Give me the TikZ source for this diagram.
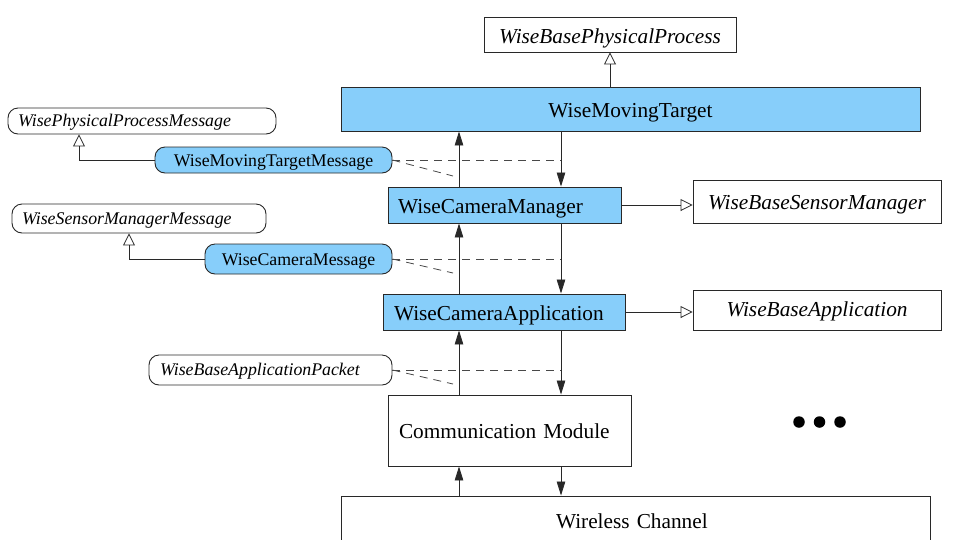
\documentclass[tikz,border=0pt]{standalone}
\usepackage{fontspec}
\setmainfont{Liberation Serif}
\usetikzlibrary{arrows.meta}
\definecolor{skyfill}{RGB}{135,206,250}
\definecolor{edgegray}{RGB}{40,40,40}
\newcommand\dgLarge{\fontsize{21.3}{25}\selectfont}
\newcommand\dgSmall{\fontsize{17.8}{21}\selectfont}
\begin{document}
\begin{tikzpicture}[x=1pt,y=-1pt,
  box/.style={draw=edgegray, line width=0.9pt, rectangle, inner sep=0pt, font=\dgLarge},
  ibox/.style={box, font=\dgLarge\itshape},
  msg/.style={draw=edgegray, line width=0.9pt, rounded corners=10pt, inner sep=0pt, font=\dgSmall},
  imsg/.style={msg, font=\dgSmall\itshape},
  simfill/.style={fill=skyfill},
  sz/.style 2 args={minimum width=#1pt, minimum height=#2pt},
  lft/.style 2 args={text width=#1pt, inner xsep=#2pt, align=left},
  % baseline lies half of #1 below the node centre
  bl/.style={text height=#1pt, text depth=0pt},
  flow/.style={draw=edgegray, line width=0.8pt, -{Triangle[length=14pt,width=8.5pt]}},
  inh/.style={draw=edgegray, line width=0.8pt, -{Triangle[open,length=12pt,width=12pt,line width=0.8pt]}},
  assoc/.style={draw=edgegray!85, line width=0.8pt, dash pattern=on 8pt off 6pt},
  dotmark/.style={circle, fill=black, inner sep=0pt, minimum size=11.5pt}
]
\useasboundingbox (0,0) rectangle (955,539);

% classes of the sensor node stack
\node[ibox, sz={252}{35}, bl=17] (wbpp) at (610,34.5) {WiseBasePhysicalProcess};
\node[box, simfill, sz={579}{44}, bl=16] (wmt) at (630.5,109) {WiseMovingTarget};
\node[imsg, sz={268}{26}, lft={248}{10}, bl=10] (wppm) at (142,121) {WisePhysicalProcessMessage};
\node[msg, simfill, sz={237}{26}, bl=13] (wmtm) at (273.5,160) {WiseMovingTargetMessage};
\node[box, simfill, sz={233}{36}, lft={213}{10}, bl=17] (wcm) at (504.5,205) {WiseCameraManager};
\node[ibox, sz={248}{43}, bl=16] (wbsm) at (817,201.5) {WiseBaseSensorManager};
\node[imsg, sz={254}{29}, lft={234}{10}, bl=11] (wsmm) at (139,218.5) {WiseSensorManagerMessage};
\node[msg, simfill, sz={187}{30}, bl=12] (wcmsg) at (298.5,259) {WiseCameraMessage};
\node[box, simfill, sz={242}{36}, lft={220}{11}, bl=16] (wca) at (504,312) {WiseCameraApplication};
\node[ibox, sz={248}{40}, bl=12] (wba) at (817,310) {WiseBaseApplication};
\node[imsg, sz={243}{30}, lft={221}{11}, bl=10] (wbap) at (270.5,370) {WiseBaseApplicationPacket};
\node[box, sz={243}{71}, lft={221}{11}, bl=16] (cm) at (509.5,430.5) {Communication Module};
\node[box, sz={589}{50}, lft={569}{10}, bl=14] (wc) at (635.5,521) {\hspace*{205pt}Wireless Channel};

% further modules
\node[dotmark] (dot1) at (799,422) {};
\node[dotmark] (dot2) at (819.5,422) {};
\node[dotmark] (dot3) at (840,422) {};

% columns of the up and down message flows
\coordinate (ux) at (459,0);
\coordinate (dx) at (561,0);

\draw[flow] (wcm.north -| ux) -- (wmt.south -| ux);
\draw[flow] (wmt.south -| dx) -- (wcm.north -| dx);
\draw[flow] (wca.north -| ux) -- (wcm.south -| ux);
\draw[flow] (wcm.south -| dx) -- (wca.north -| dx);
\draw[flow] (cm.north -| ux) -- (wca.south -| ux);
\draw[flow] (wca.south -| dx) -- (cm.north -| dx);
\draw[flow] (wc.north -| ux) -- (cm.south -| ux);
\draw[flow] (cm.south -| dx) -- (wc.north -| dx);

% message types attached to the flows
\coordinate (d1) at (453,176);
\coordinate (d2) at (453,273);
\coordinate (d3) at (453,384);
\draw[assoc] (wmtm.east) -- (wmtm.east -| dx);
\draw[assoc] (wmtm.east) -- (d1);
\draw[assoc] (wcmsg.east) -- (wcmsg.east -| dx);
\draw[assoc] (wcmsg.east) -- (d2);
\draw[assoc] (wbap.east) -- (wbap.east -| dx);
\draw[assoc] (wbap.east) -- (d3);

% inheritance
\coordinate (k1) at (79,0);
\coordinate (k2) at (129,0);
\draw[inh] (wmtm.west) -- (wmtm.west -| k1) -- (wppm.south -| k1);
\draw[inh] (wcmsg.west) -- (wcmsg.west -| k2) -- (wsmm.south -| k2);
\draw[inh] (wmt.north -| wbpp.south) -- (wbpp.south);
\draw[inh] (wcm.east) -- (wcm.east -| wbsm.west);
\draw[inh] (wca.east) -- (wca.east -| wba.west);
\end{tikzpicture}
\end{document}
